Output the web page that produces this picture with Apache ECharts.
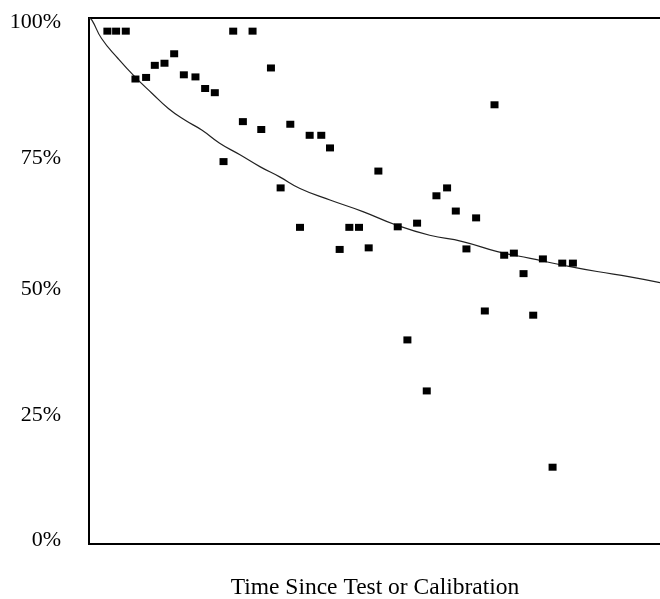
<!DOCTYPE html>
<html>
<head>
<meta charset="utf-8">
<script src="https://cdn.jsdelivr.net/npm/echarts@6/dist/echarts.min.js"></script>
<style>
  html, body { margin: 0; padding: 0; background: #fff; }
  #chart { width: 660px; height: 599px; }
</style>
</head>
<body>
<div id="chart"></div>
<script>
// measured points: time (arbitrary units) and % in tolerance
var times = [1.9, 2.8, 3.8, 4.8, 5.9, 6.8, 7.8, 8.8, 9.8, 11.0, 12.0, 13.0, 13.9, 14.9, 15.9, 16.9,
  17.8, 18.8, 19.8, 20.8, 21.8, 22.8, 24.0, 24.9, 25.9, 26.9, 27.9, 28.9, 29.9, 31.9, 32.9, 33.9,
  34.9, 35.9, 37.0, 37.9, 39.0, 40.0, 40.9, 41.9, 42.9, 43.9, 44.9, 45.9, 46.9, 47.9, 48.9, 50.0];
var pct = [97.5, 97.5, 97.5, 88.4, 88.7, 91.0, 91.4, 93.2, 89.2, 88.8, 86.6, 85.8, 72.7, 97.5, 80.3, 97.5,
  78.8, 90.5, 67.7, 79.8, 60.2, 77.7, 77.7, 75.3, 56.0, 60.2, 60.2, 56.3, 70.9, 60.3, 38.8, 61.0,
  29.1, 66.2, 67.7, 63.3, 56.1, 62.0, 44.3, 83.5, 54.9, 55.3, 51.4, 43.5, 54.2, 14.6, 53.4, 53.4];

// fitted reliability curve
var curveT = [0, 0.3, 1.3, 3.0, 4.75, 6.5, 8.2, 9.9, 11.65, 13.5, 15.6, 17.7, 19.7, 21.8, 24.9,
  28.3, 31.8, 35.2, 38.6, 42.2, 45.6, 49.0, 52.5, 55.9, 59];
var curveP = [100, 99.6, 96.1, 92.3, 88.8, 85.7, 82.8, 80.6, 78.7, 76.2, 74.0, 71.7, 69.8, 67.6, 65.4,
  63.2, 60.6, 58.7, 57.5, 55.6, 54.3, 53.0, 51.8, 50.8, 49.7];

var yTicks = [0, 25, 50, 75, 100];

var font = '"Liberation Serif", "Times New Roman", serif';

// the labels in the original sit a little off their tick, nudge them per value
var nudge = { 0: 'up4', 25: 'dn3', 50: 'dn8', 75: 'dn9', 100: 'dn4' };
function lab(pad) {
  return { fontFamily: font, fontSize: 22, color: '#000', padding: pad };
}

var chart = echarts.init(document.getElementById('chart'));
chart.setOption({
  animation: false,
  backgroundColor: '#fff',
  grid: {
    left: 89, top: 18, width: 580, bottom: 55,
    outerBoundsMode: 'none',
    show: true, borderColor: '#000', borderWidth: 2, backgroundColor: 'transparent'
  },
  xAxis: {
    type: 'value', min: 0, max: 59.93,
    name: 'Time Since Test or Calibration',
    nameLocation: 'middle', nameGap: 32,
    nameTextStyle: { fontFamily: font, fontSize: 23.5, color: '#000', padding: [0, 8, 0, 0] },
    axisLine: { show: false }, axisTick: { show: false },
    axisLabel: { show: false }, splitLine: { show: false }
  },
  yAxis: {
    type: 'value', min: 0, max: 100, interval: 25,
    axisLine: { show: false }, axisTick: { show: false }, splitLine: { show: false },
    axisLabel: {
      margin: 28, fontFamily: font, fontSize: 22, color: '#000',
      formatter: function (v) {
        if (yTicks.indexOf(v) < 0) return '';
        return '{' + nudge[v] + '|' + v + '%}';
      },
      rich: {
        up4: lab([0, 0, 8, 0]),
        dn3: lab([6, 0, 0, 0]),
        dn4: lab([8, 0, 0, 0]),
        dn8: lab([16, 0, 0, 0]),
        dn9: lab([18, 0, 0, 0])
      }
    }
  },
  series: [
    {
      type: 'line',
      data: curveT.map(function (t, i) { return [t, curveP[i]]; }),
      smooth: true,
      showSymbol: false,
      lineStyle: { color: '#222', width: 1.2 },
      z: 2
    },
    {
      type: 'scatter',
      data: times.map(function (t, i) { return [t, pct[i]]; }),
      symbol: 'rect',
      symbolSize: [8, 7],
      itemStyle: { color: '#000', opacity: 1 },
      z: 3
    }
  ]
});
</script>
</body>
</html>
